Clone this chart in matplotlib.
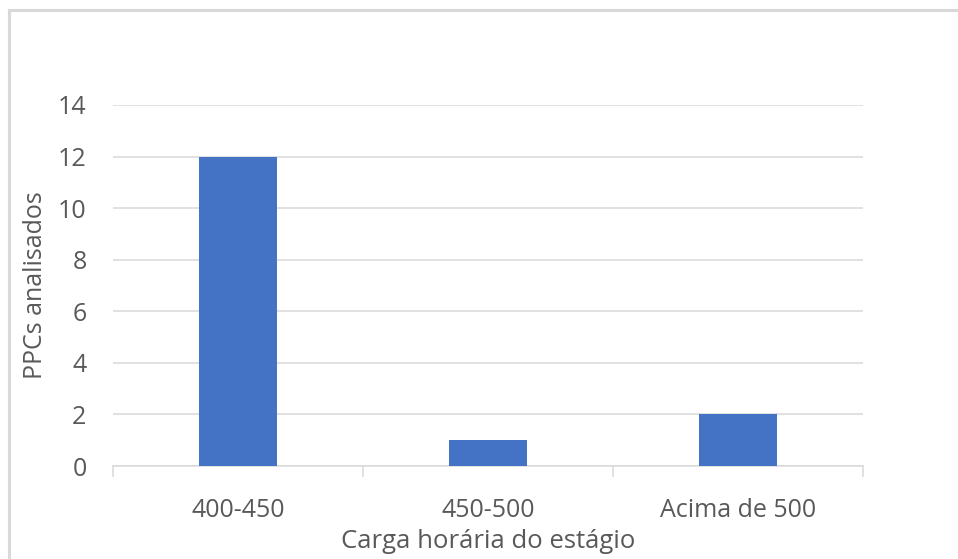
import numpy as np
import matplotlib.pyplot as plt

# dados do gráfico
categorias = ["400-450", "450-500", "Acima de 500"]
valores = [12, 1, 2]
yticks = [0, 2, 4, 6, 8, 10, 12, 14]

plt.rcParams['font.family'] = ['Open Sans', 'DejaVu Sans']

W, H = 958, 559
fig = plt.figure(figsize=(W / 100, H / 100), dpi=100)

# moldura cinza (borda da área do gráfico)
fig.add_artist(plt.Line2D([9 / W, 9 / W], [0, 1 - 10 / H], color="#D9D9D9", lw=2.2))
fig.add_artist(plt.Line2D([9 / W, 1], [1 - 10 / H, 1 - 10 / H], color="#D9D9D9", lw=2.2))

ax = fig.add_axes([113 / W, (H - 466) / H, 750 / W, 361 / H])

x = np.arange(len(categorias))
ax.bar(x, valores, width=0.31, color="#4472C4", zorder=3)

ax.set_xlim(-0.5, len(categorias) - 0.5)
ax.set_ylim(0, 14)
ax.set_yticks(yticks)
ax.yaxis.grid(True, color="#D9D9D9", lw=1.1)
ax.set_axisbelow(True)

for s in ["top", "right", "left"]:
    ax.spines[s].set_visible(False)
ax.spines["bottom"].set_color("#D9D9D9")
ax.spines["bottom"].set_linewidth(1.1)

ax.set_xticks(x)
ax.set_xticklabels(categorias)
ax.set_xticks(np.arange(-0.5, len(categorias)), minor=True)
ax.tick_params(axis="x", which="major", length=0, pad=23, labelsize=18, labelcolor="#595959")
ax.tick_params(axis="x", which="minor", length=8, color="#D9D9D9", width=1.1)
ax.tick_params(axis="y", length=0, pad=19, labelsize=18, labelcolor="#595959")

ax.set_xlabel("Carga horária do estágio", fontsize=18.5, color="#595959", labelpad=4)
ax.set_ylabel("PPCs analisados", fontsize=18, color="#595959", labelpad=7)

fig.savefig("out.png", dpi=100)
